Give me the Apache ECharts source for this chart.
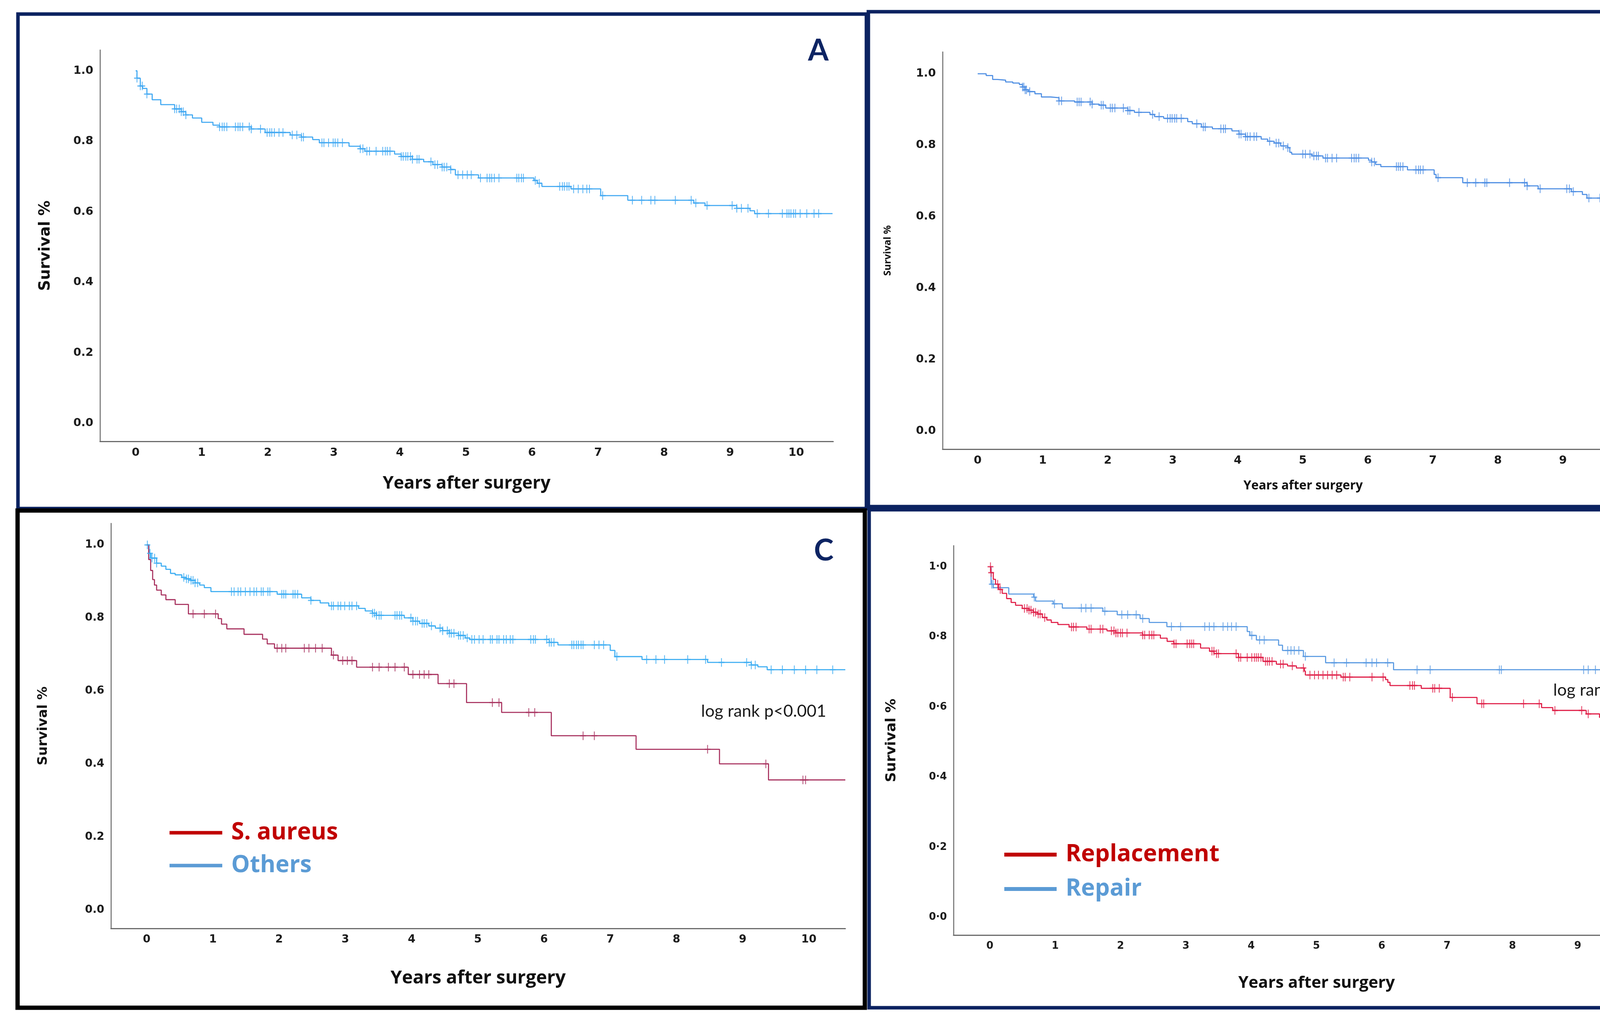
<!DOCTYPE html>
<html><head><meta charset="utf-8">
<script src="https://cdn.jsdelivr.net/npm/echarts@6/dist/echarts.min.js"></script>
<style>html,body{margin:0;padding:0;background:#fff}#c{width:4437px;height:2637px}</style>
</head><body><div id="c"></div>
<script>
// ---------- data ----------
const xTicks = [0,1,2,3,4,5,6,7,8,9,10];
const yTicks = [0,0.2,0.4,0.6,0.8,1.0];
const xName = 'Years after surgery';
const yName = 'Survival %';

// Panel A: overall
const aT = [0,0.02,0.07,0.105,0.17,0.25,0.38,0.59,0.69,0.76,0.86,1.0,1.17,1.27,1.75,1.96,2.34,2.51,2.68,2.78,3.23,3.40,3.47,3.92,4.02,4.19,4.36,4.50,4.64,4.77,4.84,5.19,6.03,6.08,6.15,6.59,7.04,7.45,8.45,8.62,9.10,9.30,9.37,10.55];
const aS = [1.0,0.979,0.957,0.950,0.934,0.918,0.904,0.892,0.884,0.875,0.866,0.854,0.846,0.841,0.835,0.825,0.818,0.812,0.805,0.796,0.786,0.779,0.772,0.764,0.757,0.749,0.742,0.734,0.727,0.720,0.705,0.696,0.689,0.681,0.672,0.665,0.646,0.633,0.625,0.618,0.610,0.603,0.595,0.595];
const aC = [0.02,0.07,0.10,0.17,0.59,0.62,0.66,0.69,0.72,0.76,1.27,1.31,1.34,1.38,1.51,1.55,1.58,1.62,1.72,1.75,1.89,1.99,2.03,2.06,2.10,2.17,2.23,2.37,2.44,2.51,2.54,2.82,2.85,2.92,2.99,3.02,3.06,3.13,3.40,3.44,3.50,3.54,3.64,3.74,3.78,3.81,3.85,4.02,4.05,4.09,4.12,4.16,4.19,4.26,4.29,4.47,4.53,4.57,4.64,4.67,4.71,4.77,4.88,4.95,5.02,5.08,5.22,5.32,5.36,5.39,5.43,5.50,5.77,5.80,5.84,5.87,6.05,6.11,6.42,6.46,6.49,6.53,6.56,6.63,6.70,6.77,6.83,6.87,7.07,7.52,7.66,7.80,7.86,8.17,8.41,8.48,8.65,9.03,9.10,9.17,9.27,9.41,9.58,9.79,9.86,9.89,9.92,9.96,9.99,10.06,10.16,10.27,10.34];

// Panel B
const bT = [0,0.13,0.23,0.30,0.43,0.54,0.64,0.69,0.73,0.78,0.88,0.98,1.12,1.25,1.49,1.76,1.87,1.97,2.31,2.41,2.65,2.72,2.86,3.23,3.30,3.44,3.61,3.91,4.02,4.12,4.36,4.46,4.56,4.66,4.77,4.80,4.83,5.14,5.31,6.01,6.06,6.12,6.20,6.61,7.02,7.05,7.46,8.45,8.62,9.13,9.30,9.37,10.55];
const bS = [1.0,0.995,0.984,0.982,0.977,0.974,0.970,0.963,0.955,0.950,0.944,0.935,0.933,0.924,0.921,0.915,0.912,0.904,0.897,0.892,0.886,0.880,0.875,0.866,0.860,0.851,0.846,0.840,0.831,0.824,0.817,0.811,0.806,0.798,0.793,0.780,0.775,0.770,0.764,0.758,0.753,0.746,0.740,0.731,0.718,0.709,0.695,0.686,0.678,0.670,0.662,0.652,0.652];
const bC = [0.69,0.71,0.73,0.75,0.80,1.25,1.29,1.53,1.56,1.59,1.73,1.76,1.90,1.93,2.04,2.07,2.11,2.24,2.31,2.34,2.48,2.69,2.79,2.92,2.96,2.99,3.03,3.06,3.13,3.37,3.47,3.50,3.74,3.78,3.81,4.02,4.05,4.12,4.15,4.19,4.25,4.29,4.49,4.59,4.63,4.70,4.77,5.00,5.04,5.11,5.17,5.21,5.24,5.35,5.38,5.45,5.52,5.75,5.79,5.82,5.86,6.06,6.10,6.44,6.47,6.50,6.54,6.74,6.78,6.81,6.85,7.08,7.53,7.66,7.80,7.83,8.18,8.41,8.45,8.65,9.06,9.10,9.16,9.40,9.57,9.78,9.85,9.88,9.92,9.98,10.05,10.15,10.36];

// Panel C: S. aureus vs Others
const sT = [0,0.03,0.06,0.09,0.117,0.15,0.22,0.29,0.43,0.63,1.08,1.13,1.21,1.47,1.75,1.82,1.93,2.79,2.89,3.17,3.95,4.40,4.83,5.36,6.11,7.39,8.65,9.39,10.55];
const sS = [1.0,0.96,0.93,0.905,0.890,0.876,0.863,0.850,0.837,0.811,0.798,0.783,0.770,0.755,0.742,0.729,0.717,0.698,0.683,0.665,0.645,0.620,0.568,0.541,0.477,0.440,0.400,0.356,0.356];
const sC = [0.70,0.87,1.04,1.97,2.04,2.10,2.38,2.45,2.55,2.65,2.82,2.96,3.03,3.10,3.41,3.51,3.65,3.75,3.89,4.02,4.12,4.19,4.26,4.57,4.64,5.22,5.32,5.77,5.86,6.59,6.76,8.47,9.35,9.91,9.95];
const oT = [0,0.035,0.062,0.15,0.22,0.29,0.36,0.43,0.53,0.60,0.67,0.73,0.80,0.87,0.97,1.97,2.34,2.48,2.62,2.75,3.20,3.30,3.41,3.47,3.89,4.02,4.12,4.26,4.36,4.47,4.57,4.71,4.81,4.88,6.08,6.21,7.00,7.07,7.48,8.47,9.13,9.23,9.37,10.55];
const oS = [1.0,0.977,0.964,0.950,0.942,0.933,0.922,0.918,0.911,0.907,0.903,0.896,0.890,0.883,0.872,0.865,0.855,0.848,0.841,0.833,0.826,0.819,0.813,0.807,0.800,0.791,0.785,0.778,0.772,0.765,0.758,0.752,0.745,0.741,0.733,0.726,0.711,0.694,0.686,0.678,0.671,0.666,0.658,0.658];
const oC = [0.01,0.05,0.08,0.12,0.15,0.56,0.60,0.63,0.67,0.70,0.73,0.77,1.28,1.32,1.38,1.42,1.49,1.56,1.62,1.66,1.73,1.76,1.83,1.86,2.04,2.07,2.10,2.21,2.24,2.28,2.48,2.79,2.82,2.89,2.93,2.99,3.06,3.10,3.17,3.41,3.44,3.47,3.51,3.54,3.75,3.78,3.82,3.85,3.99,4.02,4.06,4.09,4.16,4.19,4.23,4.30,4.43,4.47,4.54,4.57,4.60,4.64,4.71,4.74,4.78,4.84,4.91,4.95,5.02,5.08,5.19,5.22,5.29,5.32,5.39,5.43,5.49,5.53,5.80,5.84,5.87,6.04,6.08,6.11,6.15,6.42,6.45,6.49,6.52,6.56,6.59,6.76,6.83,6.90,7.10,7.55,7.69,7.82,8.17,8.44,8.68,9.06,9.13,9.19,9.43,9.60,9.78,9.95,10.12,10.36];

// Panel D: Replacement vs Repair
const pT = [0,0.012,0.053,0.087,0.135,0.189,0.257,0.326,0.394,0.496,0.599,0.667,0.735,0.803,0.872,0.94,1.042,1.213,1.486,1.793,1.93,2.339,2.611,2.714,2.816,3.226,3.362,3.431,3.806,4.181,4.386,4.557,4.693,4.816,4.83,5.375,6.058,6.092,6.126,6.604,7.047,7.457,8.446,8.617,9.129,9.333,9.402,10.55];
const pS = [1.0,0.983,0.964,0.950,0.935,0.924,0.909,0.898,0.890,0.881,0.876,0.870,0.865,0.855,0.848,0.841,0.835,0.828,0.822,0.817,0.811,0.805,0.796,0.787,0.780,0.768,0.759,0.752,0.741,0.730,0.722,0.717,0.711,0.702,0.691,0.685,0.678,0.670,0.661,0.653,0.627,0.609,0.598,0.590,0.580,0.570,0.559,0.559];
const pC = [0.01,0.02,0.12,0.16,0.53,0.57,0.60,0.63,0.67,0.70,0.74,0.77,0.84,1.25,1.28,1.32,1.52,1.55,1.69,1.73,1.86,1.90,1.93,1.96,2.00,2.03,2.10,2.34,2.37,2.44,2.48,2.51,2.82,2.85,3.02,3.06,3.09,3.12,3.40,3.43,3.47,3.50,3.77,3.81,3.84,3.94,4.01,4.05,4.08,4.11,4.15,4.22,4.25,4.28,4.32,4.45,4.49,4.63,4.80,4.90,4.97,5.03,5.10,5.17,5.24,5.31,5.41,5.44,5.51,5.85,6.02,6.43,6.47,6.50,6.78,6.81,6.88,7.08,7.53,7.56,8.17,8.41,8.65,9.06,9.16,9.78,9.81,9.85,9.88,9.95,10.15,10.19,10.25];
const rT = [0,0.019,0.053,0.29,0.67,0.70,0.97,1.11,1.73,1.95,2.30,2.44,2.71,3.94,3.98,4.08,4.42,4.48,4.80,5.14,6.18,10.55];
const rS = [1.0,0.950,0.940,0.922,0.913,0.902,0.894,0.882,0.873,0.863,0.852,0.841,0.829,0.815,0.804,0.791,0.776,0.761,0.744,0.726,0.706,0.706];
const rC = [0.03,0.05,0.68,0.99,1.40,1.47,1.55,1.76,2.02,2.11,2.24,2.34,2.78,2.92,3.29,3.36,3.43,3.57,3.64,3.70,3.77,4.01,4.13,4.20,4.56,4.61,4.66,4.73,4.83,5.27,5.46,5.76,5.85,5.92,6.09,6.54,6.74,7.80,7.83,9.09,9.16,9.27,9.37,9.57,10.05,10.32];

// ---------- helpers ----------
function stepAt(T, S, t) { let v = S[0]; for (let i = 0; i < T.length; i++) { if (T[i] <= t) v = S[i]; else break; } return v; }
function curve(T, S) { return T.map((t, i) => [t, S[i]]); }
function censor(T, S, C) { return C.map(t => [t, stepAt(T, S, t)]); }
const plus = 'path://M8.5,0h3v20h-3zM0,8.5h20v3h-20z';

// ---------- layout ----------
const panels = [
  { grid:{left:256, top:128, width:1877, height:1002}, xr:[-0.54,10.56], yr:[-0.051,1.059], tick:29, xg:86, yg:120, xn:{size:45}, yn:{font:'DejaVu Sans', size:39, weight:'bold'}, dot:false },
  { grid:{left:2413, top:133, width:1846, height:1017}, xr:[-0.54,10.55], yr:[-0.051,1.061], tick:29, xg:78, yg:128, xn:{size:32}, yn:{font:'Open Sans', size:25, weight:'bold'}, dot:false },
  { grid:{left:284, top:1340, width:1880, height:1037}, xr:[-0.54,10.55], yr:[-0.051,1.059], tick:28, xg:104, yg:156, xn:{size:47}, yn:{font:'DejaVu Sans', size:34, weight:'bold'}, dot:false },
  { grid:{left:2441, top:1397, width:1859, height:997}, xr:[-0.556,10.56], yr:[-0.051,1.060], tick:26, xg:102, yg:140, xn:{size:42}, yn:{font:'DejaVu Sans', size:36, weight:'bold'}, dot:true }
];

const grids = panels.map(p => Object.assign({containLabel:false}, p.grid));
const xAxes = panels.map((p, i) => ({
  gridIndex:i, type:'value', min:p.xr[0], max:p.xr[1],
  axisLine:{show:true, onZero:false, lineStyle:{color:'#6b6b6b', width:3}},
  axisTick:{show:false}, splitLine:{show:false},
  axisLabel:{customValues:xTicks, fontFamily:'DejaVu Sans', fontWeight:'bold', fontSize:p.tick, color:'#1b1b1b', margin:15},
  name:xName, nameLocation:'middle', nameGap:p.xg,
  nameTextStyle:{fontFamily:'Open Sans', fontWeight:'bold', fontSize:p.xn.size, color:'#111'}
}));
const yAxes = panels.map((p, i) => ({
  gridIndex:i, type:'value', min:p.yr[0], max:p.yr[1],
  axisLine:{show:true, onZero:false, lineStyle:{color:'#6b6b6b', width:2.5}},
  axisTick:{show:false}, splitLine:{show:false},
  axisLabel:{customValues:yTicks, fontFamily:'DejaVu Sans', fontWeight:'bold', fontSize:p.tick, color:'#1b1b1b', margin:17,
    formatter: v => { const s = v.toFixed(1); return p.dot ? s.replace('.', '\u00B7') : s; }},
  name:yName, nameLocation:'middle', nameGap:p.yg, nameRotate:90,
  nameTextStyle:{fontFamily:p.yn.font, fontWeight:p.yn.weight, fontSize:p.yn.size, color:'#111'}
}));

function km(name, idx, T, S, C, color) {
  return [
    { type:'line', name:name, xAxisIndex:idx, yAxisIndex:idx, data:curve(T, S), step:'end', symbol:'none',
      lineStyle:{color:color, width:2.8}, itemStyle:{color:color}, silent:true, z:3 },
    { type:'scatter', name:name + ' (censored)', xAxisIndex:idx, yAxisIndex:idx, data:censor(T, S, C),
      symbol:plus, symbolSize:[15, 22], itemStyle:{color:color}, silent:true, z:4 }
  ];
}

const series = [].concat(
  km('All patients', 0, aT, aS, aC, '#42a9f2'),
  km('All patients B', 1, bT, bS, bC, '#4f8fe3'),
  km('Others', 2, oT, oS, oC, '#3cadf2'),
  km('S. aureus', 2, sT, sS, sC, '#a8325f'),
  km('Repair', 3, rT, rS, rC, '#5b9be2'),
  km('Replacement', 3, pT, pS, pC, '#e01f48')
);

const legendText = {fontFamily:'Open Sans', fontWeight:'bold', fontSize:60, padding:[0,0,0,18]};
const legends = [
  { orient:'vertical', left:434, top:2102, itemWidth:135, itemHeight:9, itemGap:24, icon:'rect', padding:0, selectedMode:false,
    textStyle:legendText,
    data:[{name:'S. aureus', textStyle:{color:'#c00000'}, itemStyle:{color:'#c00000'}},
          {name:'Others', textStyle:{color:'#5b9bd5'}, itemStyle:{color:'#5b9bd5'}}] },
  { orient:'vertical', left:2571, top:2158, itemWidth:134, itemHeight:10, itemGap:28, icon:'rect', padding:0, selectedMode:false,
    textStyle:legendText,
    data:[{name:'Replacement', textStyle:{color:'#c00000'}, itemStyle:{color:'#c00000'}},
          {name:'Repair', textStyle:{color:'#5b9bd5'}, itemStyle:{color:'#5b9bd5'}}] }
];

const navy = '#0b2260';
function frame(x1, y1, x2, y2, color, w) {
  return { type:'rect', shape:{x:x1, y:y1, width:x2 - x1, height:y2 - y1}, style:{fill:'none', stroke:color, lineWidth:w}, z:100, silent:true };
}
function label(text, x, y, size, color, weight, font) {
  return { type:'text', x:x, y:y, style:{text:text, fill:color, fontSize:size, fontWeight:weight, fontFamily:font, align:'center', verticalAlign:'middle'}, z:101, silent:true };
}
const graphics = [
  frame(46, 36, 2218, 1302, navy, 9),
  frame(2223, 30, 4392, 1297, navy, 9),
  frame(2225, 1305, 4392, 2580, navy, 9),
  frame(45, 1307, 2214, 2580, '#000', 11),
  label('A', 2095, 130, 76, '#0d2463', 'bold', 'Lato'),
  label('B', 4212, 118, 76, '#0d2463', 'bold', 'Lato'),
  label('C', 2109, 1410, 76, '#0d2463', 'bold', 'Lato'),
  label('D', 4273, 1410, 76, '#0d2463', 'bold', 'Lato'),
  label('log rank p<0.001', 1955, 1821, 43, '#1a1a1a', 'normal', 'Lato'),
  label('log rank p=0.06', 4124, 1767, 43, '#1a1a1a', 'normal', 'Lato')
];

const chart = echarts.init(document.getElementById('c'), null, {renderer:'canvas'});
chart.setOption({
  animation:false,
  backgroundColor:'#ffffff',
  grid:grids, xAxis:xAxes, yAxis:yAxes,
  legend:legends,
  series:series,
  graphic:graphics
});
</script>
</body></html>
